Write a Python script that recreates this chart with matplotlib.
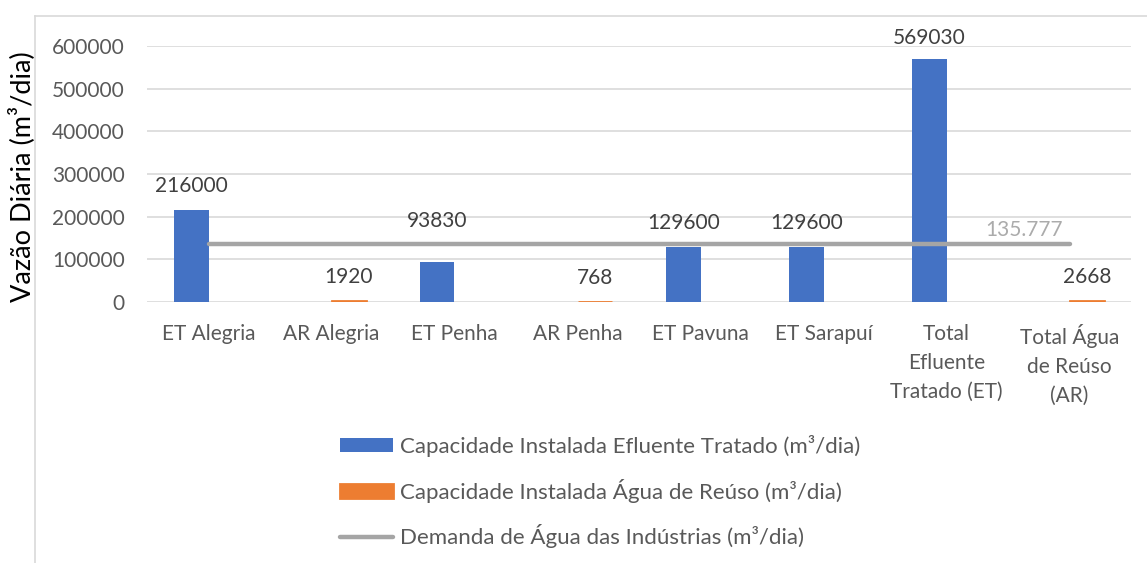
import numpy as np
import matplotlib.pyplot as plt
from matplotlib.lines import Line2D

categorias = ['ET Alegria', 'AR Alegria', 'ET Penha', 'AR Penha', 'ET Pavuna',
              'ET Sarapuí', 'Total\nEfluente\nTratado (ET)', 'Total Água\nde Reúso\n(AR)']
efluente = [216000, 0, 93830, 0, 129600, 129600, 569030, 0]
reuso = [0, 1920, 0, 768, 0, 0, 0, 2668]
demanda = [135777] * len(categorias)
demanda_rotulo = '135.777'

plt.rcParams['font.family'] = ['Lato', 'DejaVu Sans']
fs = 15
cinza_txt = '#595959'

fig = plt.figure(figsize=(11.47, 5.63), dpi=100)
ax = fig.add_axes([147/1147, 1-302/563, 984/1147, 256/563])

x = np.arange(len(categorias))
w = 0.28
ef = np.array(efluente, dtype=float)
re = np.array(reuso, dtype=float)

b1 = ax.bar(x - w/2, np.where(ef > 0, ef, np.nan), w, color='#4472C4', linewidth=0,
            label='Capacidade Instalada Efluente Tratado (m³/dia)', zorder=3)
b2 = ax.bar(x + w/2, np.where(re > 0, re, np.nan), w, color='#ED7D31',
            edgecolor='#ED7D31', linewidth=2,
            label='Capacidade Instalada Água de Reúso (m³/dia)', zorder=3)
ln, = ax.plot(x, demanda, color='#A5A5A5', linewidth=3.2, solid_capstyle='round',
              label='Demanda de Água das Indústrias (m³/dia)', zorder=4)

# rótulos de dados (o de 93830 foi deslocado para cima no original)
extra = {2: 12, 6: -2}
for i, v in enumerate(efluente):
    if v > 0:
        ax.annotate(str(v), (x[i] - w/2, v), xytext=(0, 10 + extra.get(i, 0)),
                    textcoords='offset points', ha='center', va='bottom',
                    fontsize=fs, color='#404040')
for i, v in enumerate(reuso):
    if v > 0:
        ax.annotate(str(v), (x[i] + w/2, v), xytext=(0, 10),
                    textcoords='offset points', ha='center', va='bottom',
                    fontsize=fs, color='#404040')
ax.annotate(demanda_rotulo, (x[-1], demanda[-1]), xytext=(-5, 3),
            textcoords='offset points', ha='right', va='bottom',
            fontsize=fs, color='#ABABAB')

ax.set_xlim(-0.5, len(categorias) - 0.5)
ax.set_ylim(0, 600000)
ax.set_yticks(np.arange(0, 600001, 100000))
ax.set_xticks(x)
ax.set_xticklabels(categorias, linespacing=1.55, multialignment='center')
ax.tick_params(axis='y', length=0, pad=16, labelsize=fs, labelcolor=cinza_txt)
ax.tick_params(axis='x', length=0, pad=16, labelsize=fs, labelcolor=cinza_txt)
ax.grid(axis='y', color='#D9D9D9', linewidth=1.2, zorder=0)
ax.set_axisbelow(True)
for s in ax.spines.values():
    s.set_visible(False)

ax.set_ylabel('Vazão Diária (m³/dia)', fontsize=19.5, color='black')
ax.yaxis.set_label_coords(-0.114, 0.49)

leg = fig.legend(handles=[b1, b2, ln], loc='upper left',
                 bbox_to_anchor=(340/1147, 1-435/563), frameon=False,
                 borderpad=0, borderaxespad=0,
                 fontsize=16, labelspacing=0.97, handlelength=2.4,
                 handletextpad=0.3, handleheight=0.6)
for t in leg.get_texts():
    t.set_color(cinza_txt)

# moldura da área do gráfico
fig.add_artist(Line2D([35/1147, 35/1147], [0, 1-16/563], color='#D9D9D9', linewidth=1.2))
fig.add_artist(Line2D([35/1147, 1], [1-16/563, 1-16/563], color='#D9D9D9', linewidth=1.2))

fig.savefig('out.png', dpi=100)
